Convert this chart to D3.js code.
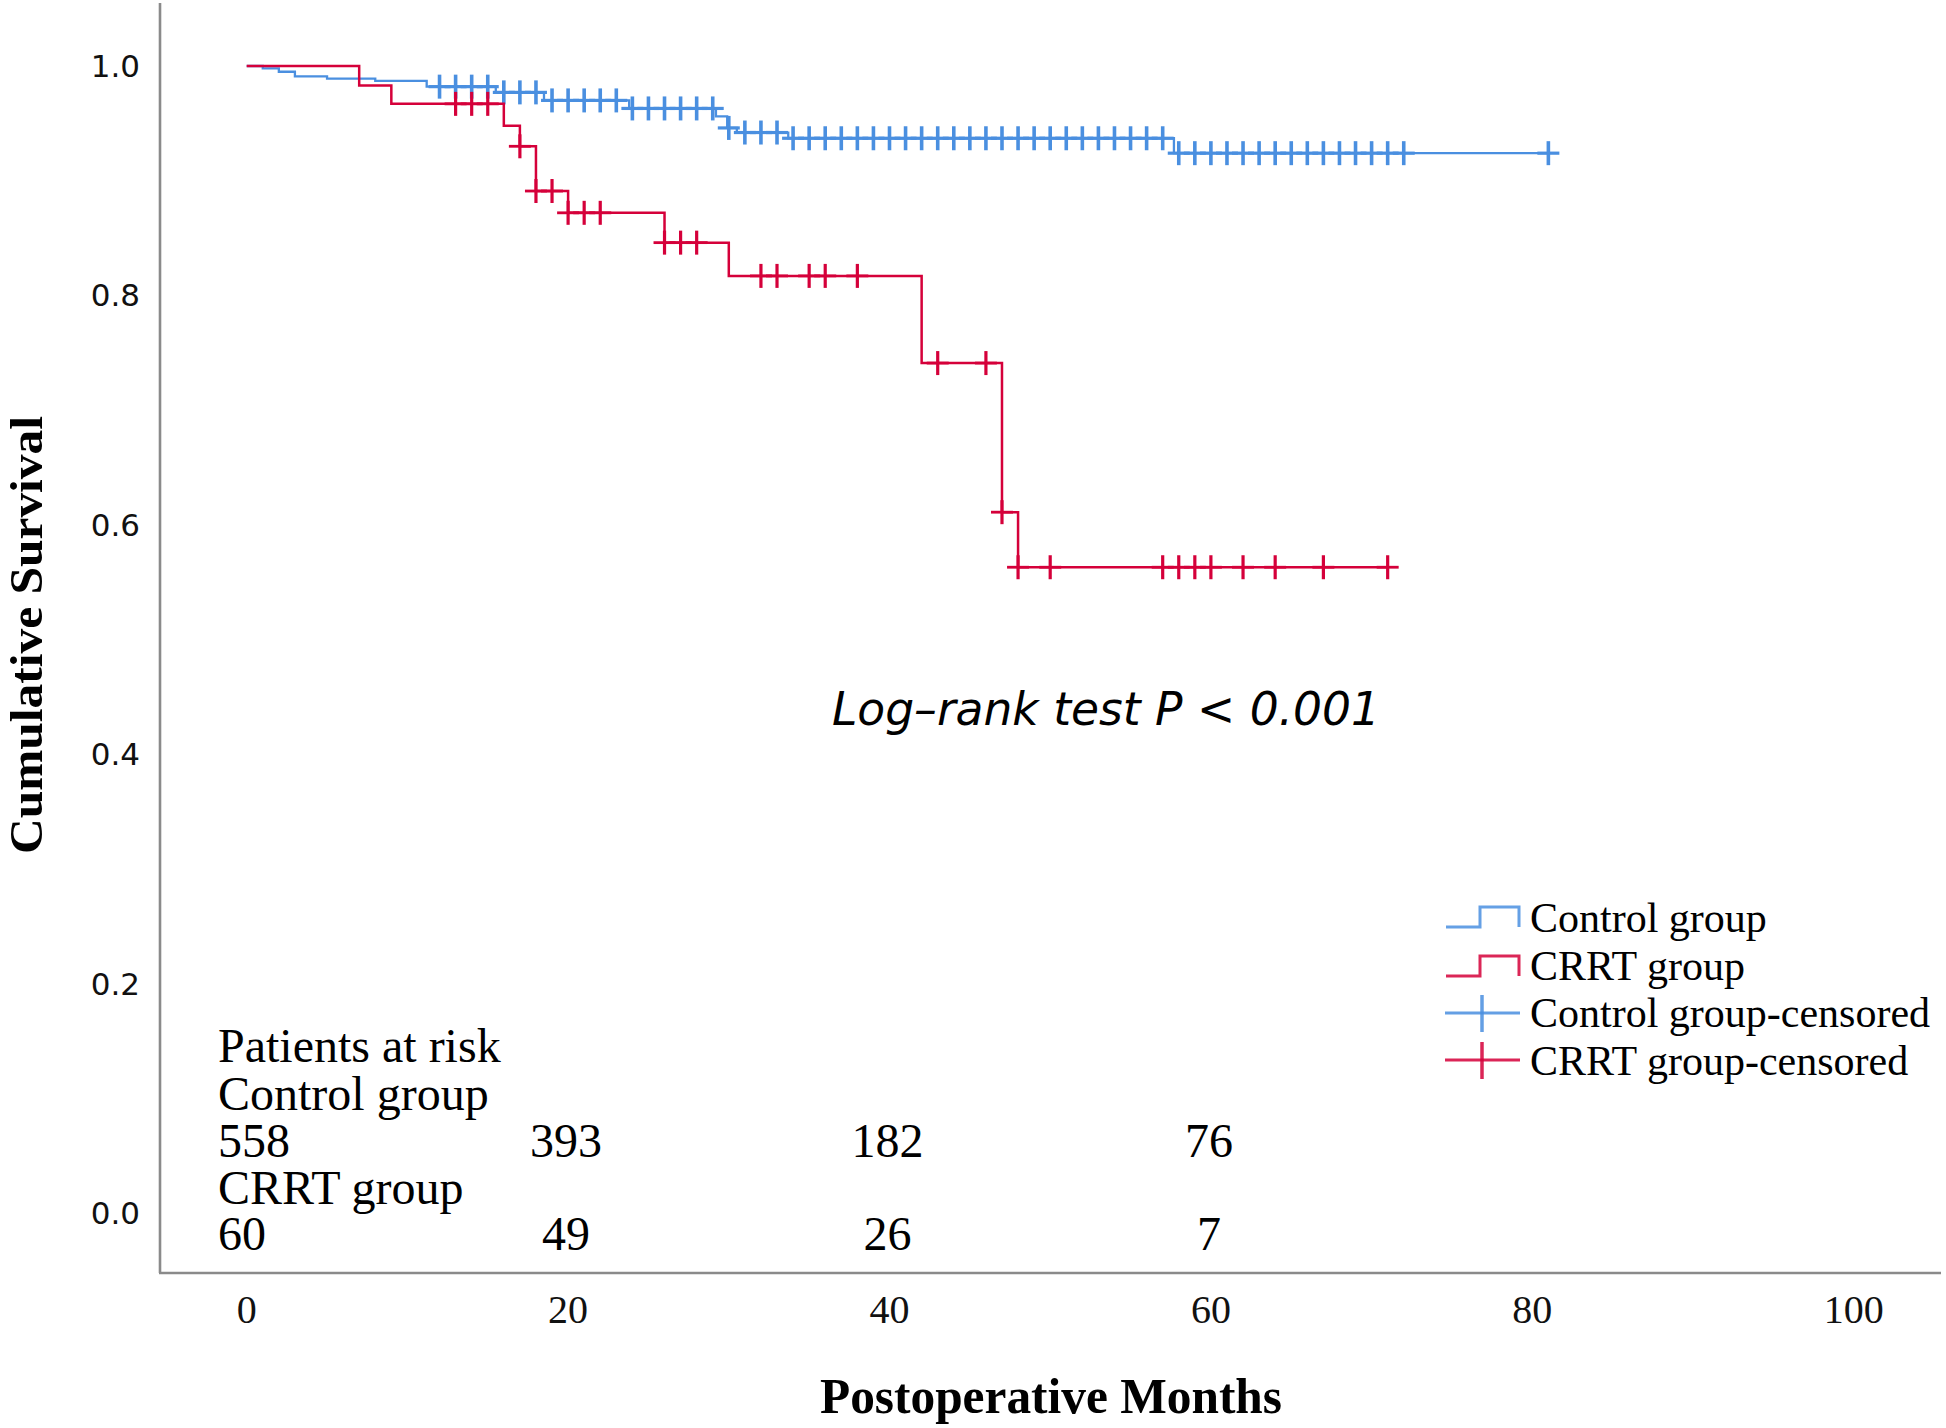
<!DOCTYPE html>
<html>
<head>
<meta charset="utf-8">
<script src="https://cdn.jsdelivr.net/npm/d3@7"></script>
<style>
  html, body { margin: 0; padding: 0; background: #fff; }
  svg { display: block; }
</style>
</head>
<body>
<svg id="chart" width="1946" height="1428"></svg>
<script>
// ---------------- DATA ----------------
const xTickValues = [0, 20, 40, 60, 80, 100];
const yTickValues = [0.0, 0.2, 0.4, 0.6, 0.8, 1.0];

// Control group (Kaplan-Meier steps)
const controlStepTimes = [0, 1, 2, 3, 5, 8, 11.2, 15.5, 18.5, 23.8, 29.2, 29.9, 30.5, 33.7, 57.7];
const controlStepSurv  = [1.0, 0.998, 0.995, 0.991, 0.989, 0.987, 0.982, 0.977, 0.970, 0.963, 0.956, 0.946, 0.942, 0.937, 0.924];
const controlEnd = 81;
const controlCensored = [12,13,14,15,16,17,18,19,20,21,22,23,24,25,26,27,28,29,30,31,32,33,34,35,36,37,38,39,40,41,42,43,44,45,46,47,48,49,50,51,52,53,54,55,56,57,58,59,60,61,62,63,64,65,66,67,68,69,70,71,72,81];

// CRRT group
const crrtStepTimes = [0, 7, 9, 16, 17, 18, 20, 26, 30, 42, 47, 48];
const crrtStepSurv  = [1.0, 0.983, 0.967, 0.948, 0.930, 0.891, 0.872, 0.846, 0.817, 0.741, 0.611, 0.563];
const crrtEnd = 71;
const crrtCensored = [13,14,15,17,18,19,20,21,22,26,27,28,32,33,35,36,38,43,46,47,48,50,57,58,59,60,62,64,67,71];

// Patients at risk
const riskTimes = [0, 20, 40, 60];
const riskControl = [558, 393, 182, 76];
const riskCRRT = [60, 49, 26, 7];

const legendLabels = ["Control group", "CRRT group", "Control group-censored", "CRRT group-censored"];

// ---------------- STYLE ----------------
const BLUE = "#4a8fe0";
const RED = "#d5003a";
const AXIS = "#8a8a8a";
const SERIF = "'Liberation Serif', 'Times New Roman', serif";
const SANS = "'DejaVu Sans', Verdana, sans-serif";

const svg = d3.select("#chart");

const x = d3.scaleLinear().domain([0, 100]).range([246.7, 1853.7]);
const y = d3.scaleLinear().domain([0, 1]).range([1213, 66]);

// axes lines
svg.append("line").attr("x1", 160).attr("x2", 160).attr("y1", 3).attr("y2", 1273)
  .attr("stroke", AXIS).attr("stroke-width", 2.6);
svg.append("line").attr("x1", 159).attr("x2", 1941).attr("y1", 1273).attr("y2", 1273)
  .attr("stroke", AXIS).attr("stroke-width", 2.6);

// y tick labels
svg.append("g").selectAll("text").data(yTickValues).join("text")
  .attr("x", 140).attr("y", d => y(d) + 11)
  .attr("text-anchor", "end")
  .attr("font-family", SANS).attr("font-size", 31).attr("fill", "#111")
  .text(d => d3.format(".1f")(d));

// x tick labels
svg.append("g").selectAll("text").data(xTickValues).join("text")
  .attr("x", d => x(d)).attr("y", 1323)
  .attr("text-anchor", "middle")
  .attr("font-family", SERIF).attr("font-size", 40).attr("fill", "#111")
  .text(d => d);

// axis titles
svg.append("text")
  .attr("x", 1051).attr("y", 1413)
  .attr("text-anchor", "middle")
  .attr("font-family", SERIF).attr("font-weight", "bold").attr("font-size", 50)
  .attr("textLength", 462).attr("lengthAdjust", "spacingAndGlyphs")
  .attr("fill", "#000")
  .text("Postoperative Months");

svg.append("text")
  .attr("transform", "translate(42,635) rotate(-90)")
  .attr("text-anchor", "middle")
  .attr("font-family", SERIF).attr("font-weight", "bold").attr("font-size", 47)
  .attr("textLength", 438).attr("lengthAdjust", "spacingAndGlyphs")
  .attr("fill", "#000")
  .text("Cumulative Survival");

// step function helper
function survAt(times, surv, t) {
  let s = surv[0];
  for (let i = 0; i < times.length; i++) if (times[i] <= t) s = surv[i];
  return s;
}
function stepPoints(times, surv, end) {
  const pts = times.map((t, i) => [t, surv[i]]);
  pts.push([end, surv[surv.length - 1]]);
  return pts;
}
const line = d3.line().x(d => x(d[0])).y(d => y(d[1])).curve(d3.curveStepAfter);

function drawGroup(times, surv, end, censored, color, lw, mw) {
  const g = svg.append("g");
  g.append("path")
    .attr("d", line(stepPoints(times, surv, end)))
    .attr("fill", "none").attr("stroke", color).attr("stroke-width", lw)
    .attr("stroke-linejoin", "miter");
  const marks = g.selectAll("g.m").data(censored).join("g")
    .attr("transform", d => `translate(${x(d)},${y(survAt(times, surv, d))})`);
  marks.append("line").attr("x1", -11).attr("x2", 11).attr("y1", 0).attr("y2", 0)
    .attr("stroke", color).attr("stroke-width", mw);
  marks.append("line").attr("x1", 0).attr("x2", 0).attr("y1", -12).attr("y2", 12)
    .attr("stroke", color).attr("stroke-width", mw + 0.4);
}
drawGroup(controlStepTimes, controlStepSurv, controlEnd, controlCensored, BLUE, 2.3, 3.2);
drawGroup(crrtStepTimes, crrtStepSurv, crrtEnd, crrtCensored, RED, 2.5, 2.8);

// Log-rank annotation
svg.append("text")
  .attr("x", 832).attr("y", 725)
  .attr("font-family", SANS).attr("font-style", "italic").attr("font-size", 46)
  .attr("textLength", 548).attr("lengthAdjust", "spacingAndGlyphs")
  .attr("fill", "#000")
  .text("Log\u2013rank test P < 0.001");

// Patients at risk table
const risk = svg.append("g").attr("font-family", SERIF).attr("font-size", 48).attr("fill", "#000");
const rowY = [1062, 1110, 1157, 1204, 1250];
risk.append("text").attr("x", 218).attr("y", rowY[0]).text("Patients at risk");
risk.append("text").attr("x", 218).attr("y", rowY[1]).text("Control group");
risk.append("text").attr("x", 218).attr("y", rowY[3]).text("CRRT group");
function riskRow(vals, yy) {
  risk.append("g").selectAll("text").data(vals).join("text")
    .attr("x", (d, i) => i === 0 ? 218 : x(riskTimes[i]) - 2)
    .attr("y", yy)
    .attr("text-anchor", (d, i) => i === 0 ? "start" : "middle")
    .text(d => d);
}
riskRow(riskControl, rowY[2]);
riskRow(riskCRRT, rowY[4]);

// Legend
const leg = svg.append("g");
const legTextX = 1530;
const legBase = [932, 980, 1027, 1075];
leg.selectAll("text").data(legendLabels).join("text")
  .attr("x", legTextX).attr("y", (d, i) => legBase[i])
  .attr("font-family", SERIF).attr("font-size", 42).attr("fill", "#000")
  .text(d => d);
// step symbols
[[BLUE, 927, 907], [RED, 976, 956]].forEach(([c, lo, hi]) => {
  leg.append("path")
    .attr("d", `M1446,${lo} H1480 V${hi} H1519 V${lo}`)
    .attr("fill", "none").attr("stroke", c).attr("stroke-width", 3).attr("opacity", 0.85);
});
// censored symbols
[[BLUE, 1013], [RED, 1060]].forEach(([c, cy]) => {
  leg.append("line").attr("x1", 1445).attr("x2", 1520).attr("y1", cy).attr("y2", cy)
    .attr("stroke", c).attr("stroke-width", 3).attr("opacity", 0.85);
  leg.append("line").attr("x1", 1482).attr("x2", 1482).attr("y1", cy - 18).attr("y2", cy + 19)
    .attr("stroke", c).attr("stroke-width", 3.5).attr("opacity", 0.85);
});
</script>
</body>
</html>
